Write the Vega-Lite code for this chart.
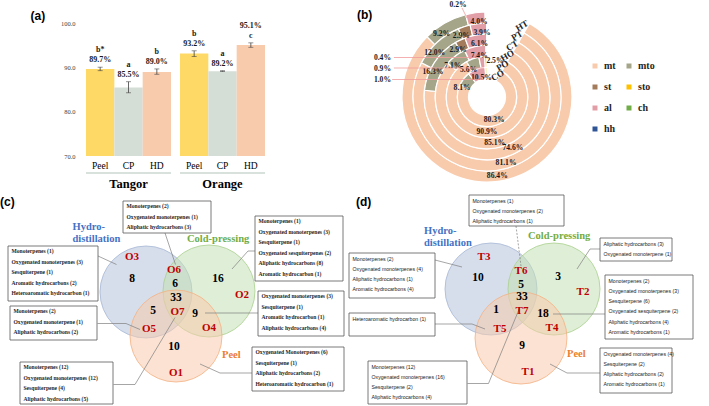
{
  "$schema": "https://vega.github.io/schema/vega-lite/v6.json",
  "padding": 0,
  "spacing": 0,
  "config": {"view": {"stroke": null}},
  "resolve": {"scale": {"color": "independent", "fill": "independent", "stroke": "independent", "x": "independent", "y": "independent", "theta": "independent", "radius": "independent"}, "legend": {"color": "independent", "fill": "independent", "stroke": "independent"}},
  "datasets": {
    "bars": [
      {"group": "Tangor", "method": "Peel", "value": 89.7, "lo": 89.3, "hi": 90.1, "label": "b*\n89.7%"},
      {"group": "Tangor", "method": "CP", "value": 85.5, "lo": 84.3, "hi": 86.8, "label": "a\n85.5%"},
      {"group": "Tangor", "method": "HD", "value": 89.0, "lo": 88.5, "hi": 89.7, "label": "b\n89.0%"},
      {"group": "Orange", "method": "Peel", "value": 93.2, "lo": 92.5, "hi": 93.8, "label": "b\n93.2%"},
      {"group": "Orange", "method": "CP", "value": 89.2, "lo": 89.1, "hi": 89.3, "label": "a\n89.2%"},
      {"group": "Orange", "method": "HD", "value": 95.1, "lo": 94.6, "hi": 95.6, "label": "95.1%\nc"}
    ],
    "rings": [
      {"ring": "HT", "cat": "mt", "value": 86.4}, {"ring": "HT", "cat": "mto", "value": 9.2}, {"ring": "HT", "cat": "al", "value": 4.0}, {"ring": "HT", "cat": "sto", "value": 0.2},
      {"ring": "PT", "cat": "mt", "value": 81.1}, {"ring": "PT", "cat": "mto", "value": 12.0}, {"ring": "PT", "cat": "st", "value": 2.9}, {"ring": "PT", "cat": "al", "value": 3.9},
      {"ring": "CT", "cat": "mt", "value": 74.6}, {"ring": "CT", "cat": "mto", "value": 16.3}, {"ring": "CT", "cat": "st", "value": 2.9}, {"ring": "CT", "cat": "al", "value": 6.1},
      {"ring": "HO", "cat": "mt", "value": 85.1}, {"ring": "HO", "cat": "mto", "value": 7.1}, {"ring": "HO", "cat": "al", "value": 7.4}, {"ring": "HO", "cat": "sto", "value": 0.4},
      {"ring": "PO", "cat": "mt", "value": 90.9}, {"ring": "PO", "cat": "mto", "value": 5.6}, {"ring": "PO", "cat": "al", "value": 2.5}, {"ring": "PO", "cat": "sto", "value": 0.9},
      {"ring": "CO", "cat": "mt", "value": 80.3}, {"ring": "CO", "cat": "mto", "value": 8.1}, {"ring": "CO", "cat": "al", "value": 10.5}, {"ring": "CO", "cat": "sto", "value": 1.0}
    ],
    "circles": [
      {"panel": "c", "set": "Hydro-distillation", "cx": 29.2, "cy": 19.4},
      {"panel": "c", "set": "Cold-pressing", "cx": 41.8, "cy": 19.2},
      {"panel": "c", "set": "Peel", "cx": 35.2, "cy": 28.2},
      {"panel": "d", "set": "Hydro-distillation", "cx": 98.2, "cy": 18.8},
      {"panel": "d", "set": "Cold-pressing", "cx": 110.8, "cy": 18.8},
      {"panel": "d", "set": "Peel", "cx": 104.2, "cy": 28.6}
    ],
    "setlabels": [
      {"panel": "c", "set": "Hydro-distillation", "text": "Hydro-", "x": 14.5, "y": 6.4},
      {"panel": "c", "set": "Hydro-distillation", "text": "distillation", "x": 14.5, "y": 8.8},
      {"panel": "c", "set": "Cold-pressing", "text": "Cold-pressing", "x": 37.4, "y": 8.8},
      {"panel": "c", "set": "Peel", "text": "Peel", "x": 44.4, "y": 32.0},
      {"panel": "d", "set": "Hydro-distillation", "text": "Hydro-", "x": 84.8, "y": 7.1},
      {"panel": "d", "set": "Hydro-distillation", "text": "distillation", "x": 84.8, "y": 9.5},
      {"panel": "d", "set": "Cold-pressing", "text": "Cold-pressing", "x": 105.6, "y": 8.2},
      {"panel": "d", "set": "Peel", "text": "Peel", "x": 113.4, "y": 31.8}
    ],
    "counts": [
      {"panel": "c", "region": "O3", "n": "8", "x": 26.4, "y": 16.8, "rx": 26.4, "ry": 12.4},
      {"panel": "c", "region": "O6", "n": "6", "x": 35.0, "y": 17.8, "rx": 34.8, "ry": 15.0},
      {"panel": "c", "region": "O2", "n": "16", "x": 43.6, "y": 16.8, "rx": 48.4, "ry": 20.0},
      {"panel": "c", "region": "O7", "n": "33", "x": 35.2, "y": 20.5, "rx": 35.5, "ry": 23.3},
      {"panel": "c", "region": "O5", "n": "5", "x": 30.6, "y": 23.2, "rx": 29.8, "ry": 26.8},
      {"panel": "c", "region": "O4", "n": "9", "x": 39.0, "y": 23.8, "rx": 41.8, "ry": 26.6},
      {"panel": "c", "region": "O1", "n": "10", "x": 34.8, "y": 30.4, "rx": 35.2, "ry": 35.6},
      {"panel": "d", "region": "T3", "n": "10", "x": 95.6, "y": 16.6, "rx": 96.8, "ry": 12.4},
      {"panel": "d", "region": "T6", "n": "5", "x": 104.2, "y": 18.0, "rx": 104.2, "ry": 15.2},
      {"panel": "d", "region": "T2", "n": "3", "x": 111.6, "y": 16.4, "rx": 116.6, "ry": 19.4},
      {"panel": "d", "region": "T7", "n": "33", "x": 104.4, "y": 20.4, "rx": 104.4, "ry": 23.1},
      {"panel": "d", "region": "T5", "n": "1", "x": 99.2, "y": 23.0, "rx": 100.0, "ry": 26.8},
      {"panel": "d", "region": "T4", "n": "18", "x": 108.6, "y": 23.8, "rx": 110.4, "ry": 26.6},
      {"panel": "d", "region": "T1", "n": "9", "x": 104.4, "y": 30.2, "rx": 105.6, "ry": 35.4}
    ],
    "boxes": [
      {"panel": "c", "region": "O6", "x": 24.6, "x2": 42.2, "y": 1.2, "y2": 7.6, "lines": "Monoterpenes (2)\nOxygenated monoterpenes (1)\nAliphatic hydrocarbons (3)"},
      {"panel": "c", "region": "O3", "x": 1.6, "x2": 19.6, "y": 10.2, "y2": 21.2, "lines": "Monoterpenes (1)\nOxygenated monoterpenes (3)\nSesquiterpene (1)\nAromatic hydrocarbons (2)\nHeteroaromatic hydrocarbon (1)"},
      {"panel": "c", "region": "O5", "x": 2.0, "x2": 19.4, "y": 22.2, "y2": 29.0, "lines": "Monoterpenes (2)\nOxygenated monoterpene (1)\nAliphatic hydrocarbons (2)"},
      {"panel": "c", "region": "O7", "x": 4.0, "x2": 22.6, "y": 33.4, "y2": 41.8, "lines": "Monoterpenes (12)\nOxygenated monoterpenes (12)\nSesquiterpene (4)\nAliphatic hydrocarbons (5)"},
      {"panel": "c", "region": "O2", "x": 51.0, "x2": 68.6, "y": 4.2, "y2": 17.2, "lines": "Monoterpenes (1)\nOxygenated monoterpenes (3)\nSesquiterpene (1)\nOxygenated sesquiterpenes (2)\nAliphatic hydrocarbons (8)\nAromatic hydrocarbon (1)"},
      {"panel": "c", "region": "O4", "x": 51.6, "x2": 68.8, "y": 19.2, "y2": 28.2, "lines": "Oxygenated monoterpenes (3)\nSesquiterpene (1)\nAromatic hydrocarbon (1)\nAliphatic hydrocarbons (4)"},
      {"panel": "c", "region": "O1", "x": 50.4, "x2": 68.8, "y": 30.4, "y2": 39.2, "lines": "Oxygenated Monoterpenes (6)\nSesquiterpene (1)\nAliphatic hydrocarbons (2)\nHeteroaromatic hydrocarbon (1)"},
      {"panel": "d", "region": "T6", "x": 93.8, "x2": 112.8, "y": 0.0, "y2": 6.2, "lines": "Monoterpenes (1)\nOxygenated monoterpenes (2)\nAliphatic hydrocarbons (1)"},
      {"panel": "d", "region": "T3", "x": 69.8, "x2": 87.0, "y": 11.6, "y2": 20.6, "lines": "Monoterpenes (2)\nOxygenated monoterpenes (4)\nAliphatic hydrocarbons (1)\nAromatic hydrocarbons (4)"},
      {"panel": "d", "region": "T5", "x": 69.8, "x2": 87.0, "y": 23.6, "y2": 28.2, "lines": "Heteroaromatic hydrocarbon (1)"},
      {"panel": "d", "region": "T7", "x": 73.6, "x2": 93.4, "y": 33.2, "y2": 41.8, "lines": "Monoterpenes (12)\nOxygenated monoterpenes (16)\nSesquiterpene (2)\nAliphatic hydrocarbons (4)"},
      {"panel": "d", "region": "T2", "x": 120.0, "x2": 134.4, "y": 8.6, "y2": 13.2, "lines": "Aliphatic hydrocarbons (3)\nOxygenated monoterpene (1)"},
      {"panel": "d", "region": "T4", "x": 121.0, "x2": 138.6, "y": 16.0, "y2": 28.8, "lines": "Monoterpenes (2)\nOxygenated monoterpenes (3)\nSesquiterpene (6)\nOxygenated sesquiterpene (2)\nAliphatic hydrocarbons (4)\nAromatic hydrocarbons (1)"},
      {"panel": "d", "region": "T1", "x": 120.0, "x2": 134.4, "y": 30.6, "y2": 39.6, "lines": "Oxygenated monoterpenes (4)\nSesquiterpene (2)\nAliphatic hydrocarbons (2)\nAromatic hydrocarbons (1)"}
    ],
    "links": [
      {"region": "O6", "x": 33.0, "y": 7.6, "x2": 35.1, "y2": 13.9},
      {"region": "O3", "x": 19.6, "y": 12.2, "x2": 23.3, "y2": 13.9},
      {"region": "O5", "x": 19.5, "y": 25.7, "x2": 25.2, "y2": 25.7},
      {"region": "O5", "x": 25.2, "y": 25.7, "x2": 28.0, "y2": 26.9},
      {"region": "O7", "x": 22.7, "y": 37.9, "x2": 27.0, "y2": 37.9},
      {"region": "O7", "x": 27.0, "y": 37.9, "x2": 35.0, "y2": 24.5},
      {"region": "O2", "x": 51.0, "y": 11.2, "x2": 49.6, "y2": 11.2},
      {"region": "O2", "x": 49.6, "y": 11.2, "x2": 46.4, "y2": 14.8},
      {"region": "O4", "x": 41.0, "y": 23.6, "x2": 51.6, "y2": 23.6},
      {"region": "O1", "x": 50.4, "y": 35.6, "x2": 44.0, "y2": 35.6},
      {"region": "O1", "x": 44.0, "y": 35.6, "x2": 40.0, "y2": 33.8},
      {"region": "T6", "x": 103.2, "y": 6.2, "x2": 104.2, "y2": 14.2},
      {"region": "T3", "x": 87.0, "y": 13.0, "x2": 92.4, "y2": 14.4},
      {"region": "T5", "x": 87.0, "y": 25.8, "x2": 94.4, "y2": 25.8},
      {"region": "T5", "x": 94.4, "y": 25.8, "x2": 97.0, "y2": 26.8},
      {"region": "T7", "x": 93.5, "y": 37.7, "x2": 97.7, "y2": 37.7},
      {"region": "T7", "x": 97.7, "y": 37.7, "x2": 104.0, "y2": 22.4},
      {"region": "T2", "x": 120.0, "y": 10.8, "x2": 118.0, "y2": 10.8},
      {"region": "T2", "x": 118.0, "y": 10.8, "x2": 115.4, "y2": 14.8},
      {"region": "T4", "x": 110.6, "y": 23.8, "x2": 121.0, "y2": 23.8},
      {"region": "T1", "x": 120.0, "y": 35.6, "x2": 113.4, "y2": 35.6},
      {"region": "T1", "x": 113.4, "y": 35.6, "x2": 110.0, "y2": 33.8}
    ],
    "tags": [
      {"tag": "(c)", "x": 0.0, "y": 1.4},
      {"tag": "(d)", "x": 71.2, "y": 1.4}
    ]
  },
  "vconcat": [
    {
      "spacing": 0,
      "resolve": {"scale": {"color": "independent", "fill": "independent", "stroke": "independent", "x": "independent", "y": "independent", "theta": "independent", "radius": "independent"}, "legend": {"color": "independent"}},
      "hconcat": [
        {"width": 30, "height": 1, "data": {"values": []}, "mark": "point"},
        {
          "width": 179,
          "height": 156,
          "data": {"name": "bars"},
          "layer": [
            {
              "mark": {"type": "bar"},
              "encoding": {
                "x": {"field": "group", "type": "nominal", "sort": ["Tangor", "Orange"], "scale": {"paddingInner": 0.0957, "paddingOuter": 0},
                  "axis": {"title": null, "labelAngle": 0, "labelFont": "Liberation Serif", "labelFontSize": 12.5, "labelFontWeight": "bold", "labelColor": "#000000", "ticks": false, "domain": false, "labelPadding": 21}},
                "xOffset": {"field": "method", "type": "nominal", "sort": ["Peel", "CP", "HD"], "scale": {"paddingInner": 0, "paddingOuter": 0}},
                "y": {"field": "value", "type": "quantitative", "scale": {"domain": [70, 105.3], "nice": false, "zero": false},
                  "axis": {"values": [70, 75, 80, 85, 90, 95, 100], "format": ".1f", "title": "(a)", "titleAngle": 0, "titleX": -56, "titleY": 15.5, "titleAlign": "left", "titleBaseline": "middle", "titleFont": "Liberation Sans", "titleFontSize": 12, "titleFontWeight": "bold", "titleColor": "#000000", "labelFont": "Liberation Serif", "labelFontSize": 6.5, "labelColor": "#404040", "ticks": false, "domain": false, "grid": false, "labelPadding": 11}},
                "y2": {"datum": 70},
                "color": {"field": "method", "type": "nominal", "scale": {"domain": ["Peel", "CP", "HD"], "range": ["#FFD966", "#D5DDD7", "#F8CBAD"]}, "legend": null}
              }
            },
            {
              "mark": {"type": "rule", "color": "#404040", "strokeWidth": 0.8},
              "encoding": {
                "x": {"field": "group", "type": "nominal", "sort": ["Tangor", "Orange"]},
                "xOffset": {"field": "method", "type": "nominal", "sort": ["Peel", "CP", "HD"]},
                "y": {"field": "lo", "type": "quantitative"},
                "y2": {"field": "hi"}
              }
            },
            {
              "mark": {"type": "tick", "color": "#404040", "size": 5, "thickness": 0.8},
              "encoding": {
                "x": {"field": "group", "type": "nominal", "sort": ["Tangor", "Orange"]},
                "xOffset": {"field": "method", "type": "nominal", "sort": ["Peel", "CP", "HD"]},
                "y": {"field": "lo", "type": "quantitative"}
              }
            },
            {
              "mark": {"type": "tick", "color": "#404040", "size": 5, "thickness": 0.8},
              "encoding": {
                "x": {"field": "group", "type": "nominal", "sort": ["Tangor", "Orange"]},
                "xOffset": {"field": "method", "type": "nominal", "sort": ["Peel", "CP", "HD"]},
                "y": {"field": "hi", "type": "quantitative"}
              }
            },
            {
              "mark": {"type": "text", "baseline": "bottom", "dy": -13, "lineBreak": "\n", "lineHeight": 10, "font": "Liberation Serif", "fontSize": 8, "fontWeight": "bold", "fill": "#1A1A1A"},
              "encoding": {
                "x": {"field": "group", "type": "nominal", "sort": ["Tangor", "Orange"]},
                "xOffset": {"field": "method", "type": "nominal", "sort": ["Peel", "CP", "HD"]},
                "y": {"field": "hi", "type": "quantitative"},
                "text": {"field": "label"}
              }
            },
            {
              "mark": {"type": "text", "baseline": "middle", "font": "Liberation Serif", "fontSize": 9.5, "fill": "#000000"},
              "encoding": {
                "x": {"field": "group", "type": "nominal", "sort": ["Tangor", "Orange"]},
                "xOffset": {"field": "method", "type": "nominal", "sort": ["Peel", "CP", "HD"]},
                "y": {"datum": 67.85},
                "text": {"field": "method"}
              }
            },
            {
              "mark": {"type": "bar", "color": "#D9E1DC"},
              "encoding": {
                "x": {"field": "group", "type": "nominal", "sort": ["Tangor", "Orange"]},
                "y": {"datum": 66.35},
                "y2": {"datum": 65.95}
              }
            }
          ]
        },
        {"width": 92, "height": 1, "data": {"values": []}, "mark": "point"},
        {
          "width": 260,
          "height": 194,
          "data": {"name": "rings"},
          "transform": [
            {"calculate": "indexof(['mt','mto','st','al','sto','ch','hh'], datum.cat)", "as": "ord"},
            {"calculate": "format(datum.value, '.1f') + '%'", "as": "lbl"}
          ],
          "layer": [
            {
              "mark": {"type": "arc", "stroke": "#FFFFFF", "strokeWidth": 1.2},
              "encoding": {
                "theta": {"field": "value", "type": "quantitative", "stack": true, "scale": {"domain": [0, 100], "range": [0.5236, 6.2832]}},
                "radius": {"field": "ring", "type": "ordinal", "scale": {"type": "band", "domain": ["CO", "PO", "HO", "CT", "PT", "HT"], "range": [18.5, 85], "paddingInner": 0, "paddingOuter": 0}},
                "color": {"field": "cat", "type": "nominal",
                  "scale": {"domain": ["mt", "mto", "st", "sto", "al", "ch", "hh"], "range": ["#F8CBAD", "#A5A58A", "#A47C5C", "#FFC000", "#E29EA6", "#70AD47", "#2F5597"]},
                  "legend": {"orient": "none", "legendX": 233, "legendY": 61, "direction": "horizontal", "columns": 2, "title": null, "symbolType": "square", "symbolSize": 25, "symbolStrokeWidth": 0, "labelFont": "Liberation Serif", "labelFontWeight": "bold", "labelFontSize": 10, "labelColor": "#262626", "rowPadding": 11, "columnPadding": 8, "labelOffset": 4}},
                "order": {"field": "ord", "type": "quantitative"}
              }
            },
            {
              "mark": {"type": "text", "font": "Liberation Serif", "fontWeight": "bold", "fontSize": 7.6, "fill": "#1A1A1A"},
              "encoding": {
                "theta": {"field": "value", "type": "quantitative", "stack": true},
                "radius": {"field": "ring", "type": "ordinal"},
                "order": {"field": "ord", "type": "quantitative"},
                "text": {"condition": {"test": "datum.cat == 'mt'", "field": "lbl"}, "value": ""}
              }
            },
            {
              "mark": {"type": "text", "font": "Liberation Serif", "fontWeight": "bold", "fontSize": 7.6, "fill": "#1A1A1A", "dx": -6, "dy": 6},
              "encoding": {
                "theta": {"field": "value", "type": "quantitative", "stack": true},
                "radius": {"field": "ring", "type": "ordinal"},
                "order": {"field": "ord", "type": "quantitative"},
                "text": {"condition": {"test": "datum.cat == 'mto'", "field": "lbl"}, "value": ""}
              }
            },
            {
              "mark": {"type": "text", "font": "Liberation Serif", "fontWeight": "bold", "fontSize": 7.6, "fill": "#1A1A1A", "dx": -4.5, "dy": 4.5},
              "encoding": {
                "theta": {"field": "value", "type": "quantitative", "stack": true},
                "radius": {"field": "ring", "type": "ordinal"},
                "order": {"field": "ord", "type": "quantitative"},
                "text": {"condition": {"test": "datum.cat == 'st'", "field": "lbl"}, "value": ""}
              }
            },
            {
              "mark": {"type": "text", "font": "Liberation Serif", "fontWeight": "bold", "fontSize": 7.6, "fill": "#1A1A1A", "dx": 3, "dy": 3.5},
              "encoding": {
                "theta": {"field": "value", "type": "quantitative", "stack": true},
                "radius": {"field": "ring", "type": "ordinal"},
                "order": {"field": "ord", "type": "quantitative"},
                "text": {"condition": {"test": "datum.cat == 'al' && datum.ring != 'PO'", "field": "lbl"}, "value": ""}
              }
            },
            {
              "mark": {"type": "text", "font": "Liberation Serif", "fontWeight": "bold", "fontSize": 7.6, "fill": "#1A1A1A", "dx": 12.5, "dy": -1},
              "encoding": {
                "theta": {"field": "value", "type": "quantitative", "stack": true},
                "radius": {"field": "ring", "type": "ordinal"},
                "order": {"field": "ord", "type": "quantitative"},
                "text": {"condition": {"test": "datum.ring == 'PO' && datum.cat == 'al'", "field": "lbl"}, "value": ""}
              }
            },
            {
              "transform": [{"filter": "datum.cat == 'mt'"}],
              "mark": {"type": "text", "font": "Liberation Serif", "fontWeight": "bold", "fontSize": 9, "angle": 330, "fill": "#262626"},
              "encoding": {
                "theta": {"datum": -1.2},
                "radius": {"field": "ring", "type": "ordinal"},
                "text": {"field": "ring"}
              }
            },
            {
              "transform": [{"filter": "datum.cat == 'sto' && datum.ring != 'HT'"}],
              "mark": {"type": "text", "align": "right", "dx": -96, "dy": 7, "font": "Liberation Serif", "fontWeight": "bold", "fontSize": 7.6, "fill": "#1A1A1A"},
              "encoding": {
                "theta": {"datum": 100},
                "radius": {"field": "ring", "type": "ordinal"},
                "text": {"field": "lbl"}
              }
            },
            {
              "transform": [{"filter": "datum.cat == 'sto' && datum.ring == 'HT'"}],
              "mark": {"type": "text", "align": "center", "dx": -29, "dy": -12.5, "font": "Liberation Serif", "fontWeight": "bold", "fontSize": 7.6, "fill": "#1A1A1A"},
              "encoding": {
                "theta": {"datum": 100},
                "radius": {"field": "ring", "type": "ordinal"},
                "text": {"field": "lbl"}
              }
            },
            {
              "data": {"values": [{"tag": "(b)"}]},
              "mark": {"type": "text", "align": "left", "baseline": "middle", "font": "Liberation Sans", "fontSize": 12, "fontWeight": "bold", "fill": "#000000"},
              "encoding": {
                "x": {"datum": 0, "type": "quantitative", "scale": {"domain": [0, 1], "nice": false, "zero": false}, "axis": null},
                "y": {"datum": 0.9227, "type": "quantitative", "scale": {"domain": [0, 1], "nice": false, "zero": false}, "axis": null},
                "text": {"field": "tag"}
              }
            },
            {
              "data": {"values": [{"lead": "0.4%"}]},
              "mark": {"type": "rule", "color": "#F19C9C", "strokeWidth": 0.8},
              "encoding": {"x": {"datum": 0.142}, "x2": {"datum": 0.473}, "y": {"datum": 0.7036}, "y2": {"datum": 0.7036}}
            },
            {
              "data": {"values": [{"lead": "0.9%"}]},
              "mark": {"type": "rule", "color": "#F19C9C", "strokeWidth": 0.8},
              "encoding": {"x": {"datum": 0.142}, "x2": {"datum": 0.488}, "y": {"datum": 0.6495}, "y2": {"datum": 0.6495}}
            },
            {
              "data": {"values": [{"lead": "1.0%"}]},
              "mark": {"type": "rule", "color": "#F19C9C", "strokeWidth": 0.8},
              "encoding": {"x": {"datum": 0.135}, "x2": {"datum": 0.488}, "y": {"datum": 0.5902}, "y2": {"datum": 0.5902}}
            },
            {
              "data": {"values": [{"lead": "0.2%"}]},
              "mark": {"type": "rule", "color": "#F19C9C", "strokeWidth": 0.8},
              "encoding": {"x": {"datum": 0.404}, "x2": {"datum": 0.423}, "y": {"datum": 0.9588}, "y2": {"datum": 0.9072}}
            }
          ]
        }
      ]
    },
    {
      "width": 709,
      "height": 212,
      "resolve": {"scale": {"color": "independent", "fill": "independent", "stroke": "independent"}},
      "layer": [
        {
          "data": {"name": "circles"},
          "mark": {"type": "point", "shape": "circle", "size": 8464, "filled": true, "fillOpacity": 0.55, "strokeWidth": 0.8, "strokeOpacity": 1},
          "encoding": {
            "x": {"field": "cx", "type": "quantitative", "scale": {"domain": [0, 141.8], "nice": false, "zero": false}, "axis": null},
            "y": {"field": "cy", "type": "quantitative", "scale": {"domain": [0, 42.4], "nice": false, "zero": false, "reverse": true}, "axis": null},
            "fill": {"field": "set", "type": "nominal", "scale": {"domain": ["Hydro-distillation", "Cold-pressing", "Peel"], "range": ["#B4C3DB", "#C5E0B4", "#F8CBAD"]}, "legend": null},
            "stroke": {"field": "set", "type": "nominal", "scale": {"domain": ["Hydro-distillation", "Cold-pressing", "Peel"], "range": ["#A6B6D4", "#A9D18E", "#F4B183"]}, "legend": null}
          }
        },
        {
          "data": {"name": "links"},
          "transform": [{"filter": "datum.region != 'T6'"}],
          "mark": {"type": "rule", "color": "#7F7F7F", "strokeWidth": 0.7},
          "encoding": {
            "x": {"field": "x", "type": "quantitative"}, "x2": {"field": "x2"},
            "y": {"field": "y", "type": "quantitative"}, "y2": {"field": "y2"}
          }
        },
        {
          "data": {"name": "links"},
          "transform": [{"filter": "datum.region == 'T6'"}],
          "mark": {"type": "rule", "color": "#7F7F7F", "strokeWidth": 0.7, "strokeDash": [2, 1.5]},
          "encoding": {
            "x": {"field": "x", "type": "quantitative"}, "x2": {"field": "x2"},
            "y": {"field": "y", "type": "quantitative"}, "y2": {"field": "y2"}
          }
        },
        {
          "data": {"name": "boxes"},
          "mark": {"type": "rect", "fill": "#FFFFFF", "stroke": "#595959", "strokeWidth": 0.8},
          "encoding": {
            "x": {"field": "x", "type": "quantitative"}, "x2": {"field": "x2"},
            "y": {"field": "y", "type": "quantitative"}, "y2": {"field": "y2"}
          }
        },
        {
          "data": {"name": "boxes"},
          "transform": [{"filter": "datum.panel == 'c'"}],
          "mark": {"type": "text", "align": "left", "baseline": "top", "dx": 3.5, "dy": 3.2, "lineBreak": "\n", "lineHeight": 10.5, "font": "Liberation Serif", "fontWeight": "bold", "fontSize": 5.6, "fill": "#262626"},
          "encoding": {
            "x": {"field": "x", "type": "quantitative"},
            "y": {"field": "y", "type": "quantitative"},
            "text": {"field": "lines"}
          }
        },
        {
          "data": {"name": "boxes"},
          "transform": [{"filter": "datum.panel == 'd'"}],
          "mark": {"type": "text", "align": "left", "baseline": "top", "dx": 3.5, "dy": 3.5, "lineBreak": "\n", "lineHeight": 10.3, "font": "Liberation Sans", "fontSize": 5.2, "fill": "#1A1A1A"},
          "encoding": {
            "x": {"field": "x", "type": "quantitative"},
            "y": {"field": "y", "type": "quantitative"},
            "text": {"field": "lines"}
          }
        },
        {
          "data": {"name": "setlabels"},
          "mark": {"type": "text", "align": "left", "baseline": "middle", "font": "Liberation Serif", "fontWeight": "bold", "fontSize": 10.5},
          "encoding": {
            "x": {"field": "x", "type": "quantitative"},
            "y": {"field": "y", "type": "quantitative"},
            "text": {"field": "text"},
            "color": {"field": "set", "type": "nominal", "scale": {"domain": ["Hydro-distillation", "Cold-pressing", "Peel"], "range": ["#4472C4", "#70AD47", "#ED7D31"]}, "legend": null}
          }
        },
        {
          "data": {"name": "counts"},
          "mark": {"type": "text", "align": "center", "baseline": "middle", "font": "Liberation Serif", "fontWeight": "bold", "fontSize": 11.5, "fill": "#000000"},
          "encoding": {
            "x": {"field": "x", "type": "quantitative"},
            "y": {"field": "y", "type": "quantitative"},
            "text": {"field": "n"}
          }
        },
        {
          "data": {"name": "counts"},
          "mark": {"type": "text", "align": "center", "baseline": "middle", "font": "Liberation Serif", "fontWeight": "bold", "fontSize": 11, "fill": "#C00000"},
          "encoding": {
            "x": {"field": "rx", "type": "quantitative"},
            "y": {"field": "ry", "type": "quantitative"},
            "text": {"field": "region"}
          }
        },
        {
          "data": {"name": "tags"},
          "mark": {"type": "text", "align": "left", "baseline": "middle", "font": "Liberation Sans", "fontWeight": "bold", "fontSize": 12, "fill": "#000000"},
          "encoding": {
            "x": {"field": "x", "type": "quantitative"},
            "y": {"field": "y", "type": "quantitative"},
            "text": {"field": "tag"}
          }
        }
      ]
    }
  ]
}
